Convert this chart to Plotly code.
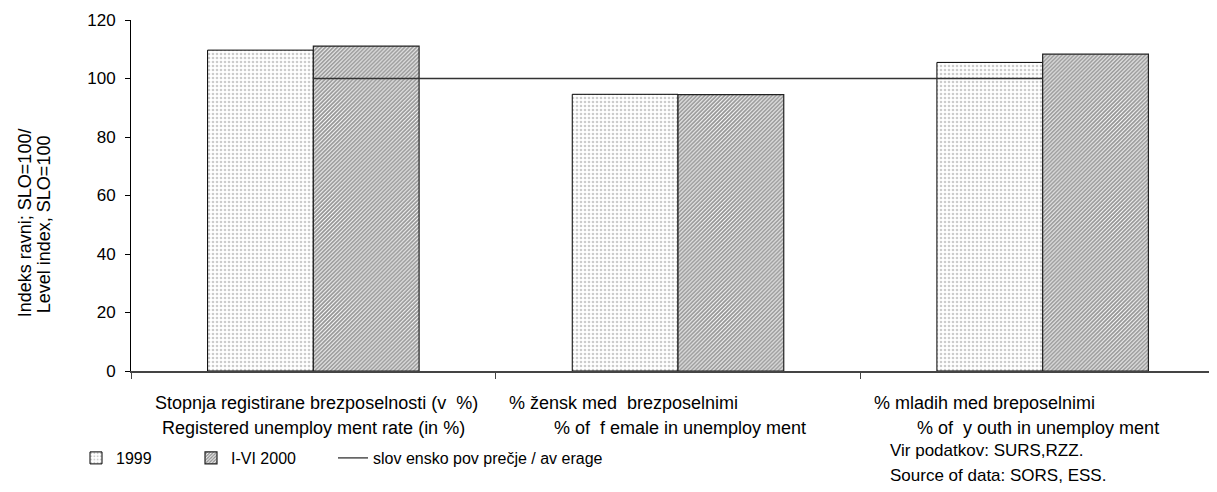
import plotly.graph_objects as go

categories = ["cat1", "cat2", "cat3"]
line1_labels = ["Stopnja registirane brezposelnosti (v  %)", "% žensk med  brezposelnimi", "% mladih med breposelnimi"]
line2_labels = ["Registered unemploy ment rate (in %)", "% of  f emale in unemploy ment", "% of  y outh in unemploy ment"]
values_1999 = [109.7, 94.6, 105.5]
values_2000 = [111.1, 94.5, 108.3]
average = [100, 100, 100]
y_ticks = [0, 20, 40, 60, 80, 100, 120]

FONT = "Liberation Sans, Arial, sans-serif"
W, H = 1217, 492
OFF = 8  # page body margin offset
PL, PT, PB = 131 - OFF, 19.5 - OFF, 371.0 - OFF
PW = W - PL


def px_x(px):
    return (px - OFF - PL) / PW


def px_y(py):
    return (PB - (py - OFF)) / (PB - PT)


fig = go.Figure()
fig.add_trace(go.Bar(
    x=categories, y=values_1999, name="1999", legend="legend",
    marker=dict(color="white", line=dict(color="black", width=1),
                pattern=dict(shape=".", fgcolor="#9a9a9a", bgcolor="white", size=4, solidity=0.35)),
))
fig.add_trace(go.Bar(
    x=categories, y=values_2000, name="I-VI 2000", legend="legend2",
    marker=dict(color="white", line=dict(color="#222222", width=1.2),
                pattern=dict(shape="/", fgcolor="#2a2a2a", bgcolor="white", size=2.8, solidity=0.65)),
))
fig.add_trace(go.Scatter(
    x=categories, y=average, name="slov ensko pov prečje / av erage", legend="legend3",
    mode="lines", line=dict(color="#333333", width=1.3),
))

annotations = []
shifts1 = [3, -55, -58]
shifts2 = [0, 2, -5]
for c, t1, s1 in zip(categories, line1_labels, shifts1):
    annotations.append(dict(x=c, xref="x", y=px_y(403), yref="paper", text=t1, showarrow=False,
                            xanchor="center", yanchor="middle", xshift=s1,
                            font=dict(size=18, color="black", family=FONT)))
for c, t2, s2 in zip(categories, line2_labels, shifts2):
    annotations.append(dict(x=c, xref="x", y=px_y(428), yref="paper", text=t2, showarrow=False,
                            xanchor="center", yanchor="middle", xshift=s2,
                            font=dict(size=18, color="black", family=FONT)))

# y-axis title (two rotated lines)
annotations.append(dict(xref="paper", yref="paper", x=px_x(25), y=px_y(223), text="Indeks ravni; SLO=100/",
                        textangle=-90, showarrow=False, xanchor="center", yanchor="middle",
                        font=dict(size=18, color="black", family=FONT)))
annotations.append(dict(xref="paper", yref="paper", x=px_x(44), y=px_y(224), text="Level index, SLO=100",
                        textangle=-90, showarrow=False, xanchor="center", yanchor="middle",
                        font=dict(size=18, color="black", family=FONT)))

# source note
annotations.append(dict(xref="paper", yref="paper", x=px_x(888), y=px_y(451),
                        text="Vir podatkov: SURS,RZZ.", showarrow=False, xanchor="left", yanchor="middle",
                        font=dict(size=17, color="black", family=FONT)))
annotations.append(dict(xref="paper", yref="paper", x=px_x(888), y=px_y(476),
                        text="Source of data: SORS, ESS.", showarrow=False, xanchor="left", yanchor="middle",
                        font=dict(size=17, color="black", family=FONT)))

legend_common = dict(orientation="h", xref="container", yref="container", yanchor="middle",
                     xanchor="left", bgcolor="rgba(0,0,0,0)",
                     font=dict(size=16, color="black", family=FONT), itemwidth=30)
ly = 1 - 450 / H

fig.update_layout(
    width=W, height=H,
    margin=dict(l=PL, r=0, t=PT, b=H - PB, autoexpand=False),
    paper_bgcolor="white", plot_bgcolor="white",
    barmode="group", bargap=0.42, bargroupgap=0,
    showlegend=True,
    legend=dict(x=68 / W, y=ly, **legend_common),
    legend2=dict(x=183 / W, y=ly, **legend_common),
    legend3=dict(x=325 / W, y=ly, **legend_common),
    annotations=annotations,
    xaxis=dict(showticklabels=False, showline=True, linecolor="#444444", linewidth=1.5,
               ticks="outside", tickson="boundaries", ticklen=6, tickcolor="#444444",
               showgrid=False, zeroline=False, automargin=False),
    yaxis=dict(range=[0, 120], tickvals=y_ticks, showline=True, linecolor="black", linewidth=1,
               ticks="outside", ticklen=5, tickcolor="black", showgrid=False, zeroline=False,
               ticklabelstandoff=6, automargin=False,
               tickfont=dict(size=17, color="black", family=FONT)),
)

fig.write_html("out.html")
